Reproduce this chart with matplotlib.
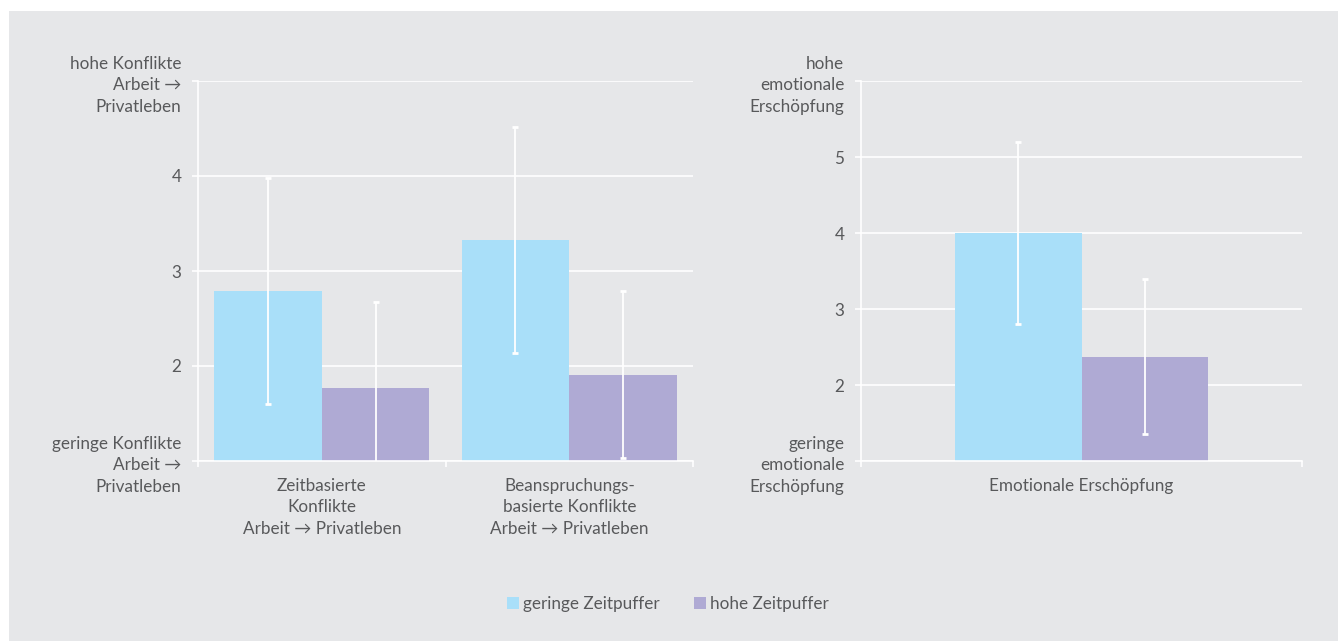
import numpy as np
import matplotlib.pyplot as plt
from matplotlib.patches import Rectangle, Patch

plt.rcParams['font.family'] = ['Lato', 'DejaVu Sans']
plt.rcParams['font.size'] = 12.3

# Daten
kategorien_links = ["Zeitbasierte\nKonflikte\nArbeit → Privatleben",
                    "Beanspruchungs-\nbasierte Konflikte\nArbeit → Privatleben"]
geringe_links = [2.79, 3.33]
geringe_links_sd = [1.19, 1.19]
hohe_links = [1.77, 1.91]
hohe_links_sd = [0.90, 0.88]

kategorien_rechts = ["Emotionale Erschöpfung"]
geringe_rechts = [4.0]
geringe_rechts_sd = [1.2]
hohe_rechts = [2.37]
hohe_rechts_sd = [1.02]

yticks_links = [1, 2, 3, 4, 5]
ylabels_links = ["geringe Konflikte\nArbeit →\nPrivatleben", "2", "3", "4",
                 "hohe Konflikte\nArbeit →\nPrivatleben"]
yticks_rechts = [1, 2, 3, 4, 5, 6]
ylabels_rechts = ["geringe\nemotionale\nErschöpfung", "2", "3", "4", "5",
                  "hohe\nemotionale\nErschöpfung"]

legende = ["geringe Zeitpuffer", "hohe Zeitpuffer"]

c_geringe = '#a9dff9'
c_hohe = '#afaad4'
bg = '#e6e7e9'
txt = '#58595b'

W, H = 1338, 641
fig = plt.figure(figsize=(W / 100, H / 100), dpi=100, facecolor='white')
fig.patches.append(Rectangle((9 / W, 0), 1 - 9 / W, 1 - 11 / H,
                             transform=fig.transFigure, facecolor=bg,
                             edgecolor='none', zorder=-10))


def panel(rect, kategorien, g, g_sd, h, h_sd, yticks, ylabels, breite):
    ax = fig.add_axes([rect[0] / W, 1 - rect[3] / H, (rect[2] - rect[0]) / W,
                       (rect[3] - rect[1]) / H])
    ax.set_facecolor(bg)
    x = np.arange(len(kategorien))
    ax.set_axisbelow(True)
    ax.grid(axis='y', color='white', linewidth=1.2)
    ax.bar(x - breite / 2, g, breite, color=c_geringe, zorder=2)
    ax.bar(x + breite / 2, h, breite, color=c_hohe, zorder=2)
    ax.errorbar(x - breite / 2, g, yerr=g_sd, fmt='none', ecolor='white',
                elinewidth=1.3, capsize=2.5, capthick=2, zorder=3)
    ax.errorbar(x + breite / 2, h, yerr=h_sd, fmt='none', ecolor='white',
                elinewidth=1.3, capsize=2.5, capthick=2, zorder=3)
    ax.set_xlim(-0.5, len(kategorien) - 0.5)
    ax.set_ylim(yticks[0], yticks[-1])
    ax.set_yticks(yticks)
    ax.set_yticklabels(ylabels)
    ax.set_xticks(x)
    ax.set_xticklabels(kategorien)
    ax.set_xticks(np.arange(len(kategorien) + 1) - 0.5, minor=True)
    for s in ['top', 'right']:
        ax.spines[s].set_visible(False)
    for s in ['left', 'bottom']:
        ax.spines[s].set_color('white')
        ax.spines[s].set_linewidth(1.2)
    ax.tick_params(axis='y', colors='white', labelcolor=txt, length=4,
                   width=1.2, pad=8)
    ax.tick_params(axis='x', which='major', length=0, labelcolor=txt, pad=12)
    ax.tick_params(axis='x', which='minor', colors='white', length=4, width=1.2)
    for t in ax.get_xticklabels():
        t.set_linespacing(1.42)
    for t in ax.get_yticklabels():
        t.set_linespacing(1.42)
    return ax


panel((198, 81, 693, 461), kategorien_links, geringe_links, geringe_links_sd,
      hohe_links, hohe_links_sd, yticks_links, ylabels_links, 0.435)
panel((861, 81, 1302, 461), kategorien_rechts, geringe_rechts, geringe_rechts_sd,
      hohe_rechts, hohe_rechts_sd, yticks_rechts, ylabels_rechts, 0.286)

handles = [Patch(facecolor=c_geringe), Patch(facecolor=c_hohe)]
fig.legend(handles, legende, loc='center', bbox_to_anchor=(668 / W, 1 - 604 / H),
           ncol=2, frameon=False, handlelength=0.7, handleheight=0.7,
           handletextpad=0.25, columnspacing=2.0, labelcolor=txt)

fig.savefig('out.png', dpi=100, facecolor='white')
